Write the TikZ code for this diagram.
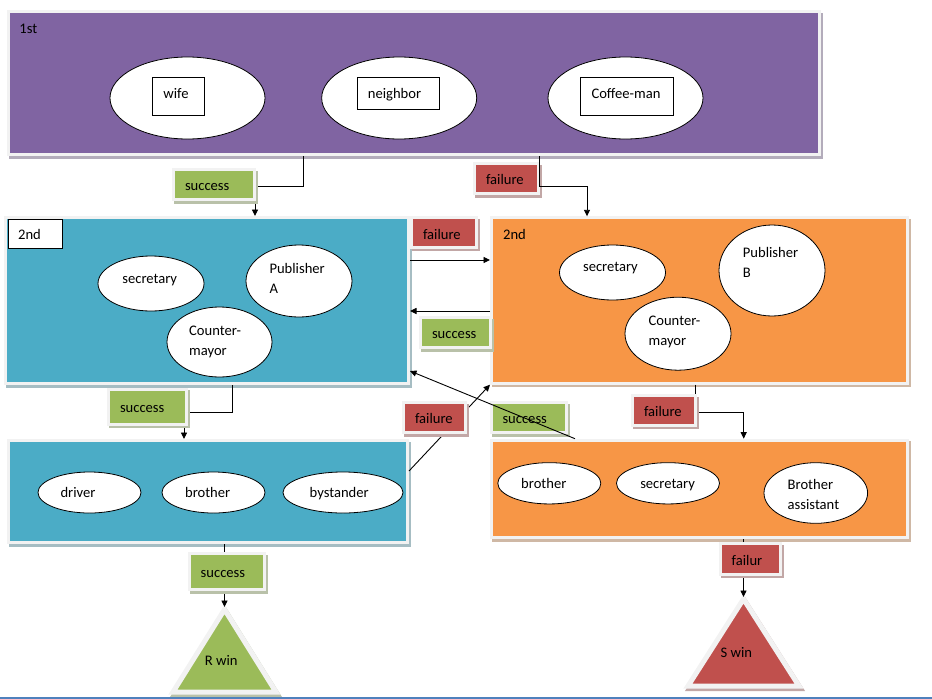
\documentclass[tikz,border=0pt]{standalone}
\usepackage{fontspec}
\setmainfont{Carlito}
\usetikzlibrary{shapes.geometric,arrows.meta}
\definecolor{cpurple}{HTML}{8064A2}
\definecolor{cblue}{HTML}{4BACC6}
\definecolor{corange}{HTML}{F79646}
\definecolor{cgreen}{HTML}{9BBB59}
\definecolor{cred}{HTML}{C0504D}
\definecolor{cframe}{HTML}{F2F2F2}
\definecolor{cline}{HTML}{4F81BD}
\newcommand\twoline[2]{\begin{tabular}[t]{@{}l@{}}#1\\#2\end{tabular}}
\begin{document}
\begin{tikzpicture}[x=1pt,y=-1pt,
  every node/.append style={font=\fontsize{14.6}{20.5}\selectfont},
  panel/.style={rectangle, draw=cframe, line width=3pt, fill=#1, inner sep=0,
    preaction={draw=#1!40!gray!60, fill=#1!40!gray!60, line width=3pt,
      transform canvas={xshift=2pt,yshift=-2.5pt}}},
  lab/.style n args={3}{panel=#1, minimum width=#2, minimum height=#3,
    inner xsep=11.5pt, inner ysep=0pt, align=left,
    text height=13.8pt, text depth=1pt},
  tri/.style={draw=cframe, line width=5pt, fill=#1, line join=miter,
    preaction={draw=#1!40!gray!60, fill=#1!40!gray!60, line width=5pt, line join=miter,
      transform canvas={xshift=1.5pt,yshift=-2.5pt}}},
  ell/.style={ellipse, draw=black, fill=white, line width=0.8pt, inner sep=0},
  ibox/.style={rectangle, draw=black, fill=white, line width=0.8pt, inner sep=0},
  tx/.style={inner sep=0, text height=13.8pt, text depth=1pt},
  tx2/.style={inner sep=0, anchor=base west},
  conn/.style={draw=black, line width=0.9pt},
  arr/.style={conn, -{Triangle[length=6.5pt,width=6pt]}}]
\useasboundingbox (0,0) rectangle (932,699);

% ---------- panels ----------
\node[panel=cpurple, minimum width=811, minimum height=143] (top) at (414,83) {};
\node[panel=cblue, minimum width=403, minimum height=166] (b2) at (207,300.5) {};
\node[panel=corange, minimum width=415.5, minimum height=165.4] (o2) at (699.25,300.5) {};
\node[panel=cblue, minimum width=399, minimum height=102] (b3) at (208,491.5) {};
\node[panel=corange, minimum width=416, minimum height=97.3] (o3) at (699,488.85) {};

% ---------- triangles ----------
\path[tri=cgreen] (224.5,609.5) -- (276,692) -- (173,692) -- cycle;
\coordinate (rapex) at (224.5,607);
\node[tx] (rwin) at (221.2,659.3) {R win};
\path[tri=cred] (743.5,599) -- (799,686) -- (688,686) -- cycle;
\coordinate (sapex) at (743.5,597);
\node[tx] (swin) at (736.4,650.7) {S win};

% ---------- top panel content ----------
\node[tx, anchor=west] (first) at (19.3,27) {1st};
\node[ell, minimum width=155, minimum height=82] (ewife) at (187.5,98) {};
\node[ell, minimum width=155, minimum height=82] (eneigh) at (399.2,98) {};
\node[ell, minimum width=155, minimum height=82] (ecoffee) at (625.5,98) {};
\node[ibox, minimum width=52, minimum height=38] (wifebox) at (178,96) {};
\node[ibox, minimum width=82, minimum height=32] (neighbox) at (398,93) {};
\node[ibox, minimum width=93, minimum height=38] (coffeebox) at (626.5,96) {};
\node[tx] (wifet) at (176,92) {wife};
\node[tx] (neight) at (394.5,92) {neighbor};
\node[tx] (coffeet) at (626,92) {Coffee-man};

% ---------- blue 2nd ----------
\node[ibox, minimum width=54, minimum height=29] (b2tag) at (35,233.5) {};
\node[tx] (b2t) at (29.5,233.3) {2nd};
\node[ell, minimum width=106, minimum height=55] (b2sec) at (151,283.5) {};
\node[ell, minimum width=106, minimum height=72] (b2pub) at (299,281) {};
\node[ell, minimum width=105, minimum height=70] (b2cm) at (219.5,342) {};
\node[tx] (b2sect) at (149.7,276.7) {secretary};
\node[tx2] (b2pubt) at (269.3,273.4) {\twoline{Publisher}{A}};
\node[tx2] (b2cmt) at (189,335.4) {\twoline{Counter-}{mayor}};

% ---------- orange 2nd ----------
\node[tx] (o2t) at (514.5,233.3) {2nd};
\node[ell, minimum width=106, minimum height=55] (o2sec) at (612.5,272.5) {};
\node[ell, minimum width=106, minimum height=91] (o2pub) at (772,270.5) {};
\node[ell, minimum width=106, minimum height=73] (o2cm) at (678,333.7) {};
\node[tx] (o2sect) at (610.4,265) {secretary};
\node[tx2] (o2pubt) at (742.7,257.1) {\twoline{Publisher}{B}};
\node[tx2] (o2cmt) at (648.4,325.4) {\twoline{Counter-}{mayor}};

% ---------- blue 3rd ----------
\node[ell, minimum width=103, minimum height=41] (b3drv) at (89.5,492.5) {};
\node[ell, minimum width=103, minimum height=41] (b3bro) at (213.5,492.5) {};
\node[ell, minimum width=120, minimum height=41] (b3bys) at (343,492.5) {};
\node[tx] (b3drvt) at (78,490.7) {driver};
\node[tx] (b3brot) at (207.7,490.7) {brother};
\node[tx] (b3byst) at (339.2,490.7) {bystander};

% ---------- orange 3rd ----------
\node[ell, minimum width=103, minimum height=41.3] (o3bro) at (549.3,483.3) {};
\node[ell, minimum width=103, minimum height=41.3] (o3sec) at (668,483.3) {};
\node[ell, minimum width=103.6, minimum height=60.6] (o3ba) at (815.8,493) {};
\node[tx] (o3brot) at (543.8,481.7) {brother};
\node[tx] (o3sect) at (667.6,481.7) {secretary};
\node[tx2] (o3bat) at (787.5,489.2) {\twoline{Brother}{assistant}};

% ---------- connectors under labels ----------
\draw[conn] (303,0 |- top.south) |- (256,186);
\draw[arr] (255,199.5) -- (255,0 |- b2.north);
\draw[conn] (232,0 |- b2.south) |- (188,412.3);
\draw[arr] (184,424.5) -- (184,0 |- b3.north);
\draw[arr] (b3.east |- 0,471) -- (o2.south west);
\draw[arr] (695,0 |- o2.south) |- (743.7,412.3) -- (743.7,0 |- o3.north);
\draw[arr] (743.5,0 |- o3.south) -- (sapex);
\draw[arr] (224.5,0 |- b3.south) -- (rapex);

% ---------- labels ----------
\node[lab={cgreen}{81}{30}, text width=58pt] (s1) at (214,184.5) {success};
\node[lab={cred}{64}{30}, text width=41pt] (f1) at (506.5,178.5) {failure};
\node[lab={cred}{65}{29.7}, text width=42pt] (f2) at (444,232.6) {failure};
\node[lab={cgreen}{70}{30}, text width=47pt] (s2) at (455.5,332.5) {success};
\node[lab={cgreen}{78}{35}, text width=55pt] (s3) at (147.5,406.5) {success};
\node[lab={cred}{62}{30}, text width=39pt] (f3) at (434.5,417.5) {failure};
\node[lab={cgreen}{75.5}{30}, text width=52.5pt] (s4) at (528.75,417.5) {success};
\node[lab={cred}{62.5}{29.6}, text width=39.5pt] (f4) at (663.75,410.5) {failure};
\node[lab={cred}{60}{30.7}, text width=37pt] (f5) at (750.2,558.85) {failur};
\node[lab={cgreen}{75.6}{36}, text width=52.6pt] (s5) at (227,571.5) {success};

% ---------- connectors over labels ----------
\draw[arr] (539.5,0 |- top.south) |- (587,186) -- (587,0 |- o2.north);
\draw[arr] (b2.east |- 0,260) -- (o2.west |- 0,260);
\draw[arr] (o2.west |- 0,311) -- (b2.east |- 0,311);
\draw[arr] (575,0 |- o3.north) -- (b2.east |- 0,371);

% bottom rule
\draw[cline, line width=2pt] (0,698) -- (932,698);
\end{tikzpicture}
\end{document}
